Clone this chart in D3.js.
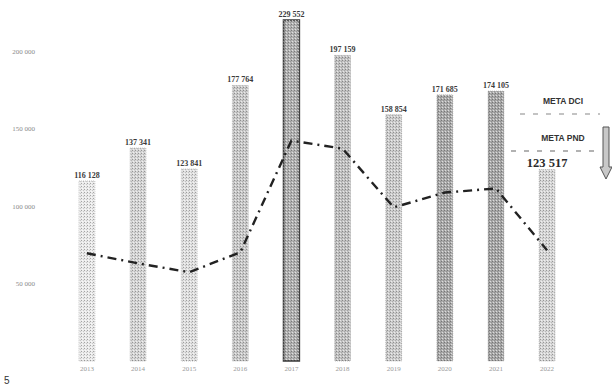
<!DOCTYPE html>
<html>
<head>
<meta charset="utf-8">
<script src="https://cdn.jsdelivr.net/npm/d3@7"></script>
<style>
  html, body { margin: 0; padding: 0; background: #fff; }
  svg { display: block; }
</style>
</head>
<body>
<div id="chart"></div>
<script>
const width = 612;
const height = 387;

// data
const years = ['2013', '2014', '2015', '2016', '2017', '2018', '2019', '2020', '2021', '2022'];
const barValues = [116128, 137341, 123841, 177764, 229552, 197159, 158854, 171685, 174105, 123517];
const lineValues = [69500, 63000, 57300, 70100, 142200, 137000, 99100, 108700, 111300, 71400];
const yTicks = [50000, 100000, 150000, 200000];
const metaLabels = ['META DCI', 'META PND'];

// bar tones of the halftone print
const shades = ['#ebebeb', '#d6d6d6', '#e1e1e1', '#cacaca', '#b2b2b2', '#c2c2c2', '#cdcdcd', '#aaaaaa', '#a8a8a8', '#d8d8d8'];

const fmt = v => d3.format(',')(v).replace(/,/g, ' ');

const svg = d3.select('#chart').append('svg')
    .attr('width', width)
    .attr('height', height);

const x = d3.scaleBand()
    .domain(years)
    .range([43.7, 590.3])
    .padding(0.69);

// the 2017 bar runs off the top of the page, so the scale is clamped
const y = d3.scaleLinear()
    .domain([0, 220000])
    .range([361, 20])
    .clamp(true);

// stipple texture laid over each bar
const defs = svg.append('defs');
const pat = defs.append('pattern')
    .attr('id', 'stipple')
    .attr('width', 3).attr('height', 3)
    .attr('patternUnits', 'userSpaceOnUse');
pat.append('rect').attr('x', 0).attr('y', 0).attr('width', 1).attr('height', 1).attr('fill', '#000').attr('opacity', 0.3);
pat.append('rect').attr('x', 1).attr('y', 2).attr('width', 1).attr('height', 1).attr('fill', '#fff').attr('opacity', 0.6);
pat.append('rect').attr('x', 2).attr('y', 1).attr('width', 1).attr('height', 1).attr('fill', '#000').attr('opacity', 0.15);

// y axis labels
svg.append('g').selectAll('text')
    .data(yTicks)
    .enter().append('text')
    .attr('x', 35)
    .attr('y', d => y(d) + 2.5)
    .attr('text-anchor', 'end')
    .style('font-family', 'Liberation Serif, serif')
    .style('font-size', '7px')
    .style('fill', '#8a8a8a')
    .text(d => fmt(d));

// bars
const bars = svg.append('g');
bars.selectAll('rect.bar')
    .data(barValues)
    .enter().append('rect')
    .attr('class', 'bar')
    .attr('x', (d, i) => x(years[i]))
    .attr('y', d => y(d))
    .attr('width', x.bandwidth())
    .attr('height', d => y(0) - y(d))
    .attr('fill', (d, i) => shades[i])
    .attr('stroke', (d, i) => i === 4 ? '#444' : '#999')
    .attr('stroke-width', (d, i) => i === 4 ? 1.6 : 0.6)
    .attr('stroke-dasharray', (d, i) => i === 4 ? null : '1,1');

bars.selectAll('rect.tex')
    .data(barValues)
    .enter().append('rect')
    .attr('class', 'tex')
    .attr('x', (d, i) => x(years[i]))
    .attr('y', d => y(d))
    .attr('width', x.bandwidth())
    .attr('height', d => y(0) - y(d))
    .attr('fill', 'url(#stipple)');

// value labels
svg.append('g').selectAll('text')
    .data(barValues)
    .enter().append('text')
    .attr('x', (d, i) => x(years[i]) + x.bandwidth() / 2)
    .attr('y', d => y(d) - 3)
    .attr('text-anchor', 'middle')
    .style('font-family', 'Liberation Serif, serif')
    .style('font-weight', 'bold')
    .style('font-size', (d, i) => i === years.length - 1 ? '12.5px' : '8px')
    .style('fill', (d, i) => i === years.length - 1 ? '#2a2a2a' : '#3a3a3a')
    .text(d => fmt(d));

// year labels
svg.append('g').selectAll('text')
    .data(years)
    .enter().append('text')
    .attr('x', d => x(d) + x.bandwidth() / 2)
    .attr('y', 371)
    .attr('text-anchor', 'middle')
    .style('font-family', 'Liberation Serif, serif')
    .style('font-size', '7px')
    .style('fill', '#999')
    .text(d => d);

// dash-dot line
const line = d3.line()
    .x((d, i) => x(years[i]) + x.bandwidth() / 2)
    .y(d => y(d));

svg.append('path')
    .datum(lineValues)
    .attr('d', line)
    .attr('fill', 'none')
    .attr('stroke', '#222')
    .attr('stroke-width', 2.4)
    .attr('stroke-dasharray', '9,5,2,5');

// legend for the goal lines
const legend = svg.append('g');
metaLabels.forEach((label, i) => {
    const ty = 104 + i * 37;
    legend.append('text')
        .attr('x', 563)
        .attr('y', ty)
        .attr('text-anchor', 'middle')
        .style('font-family', 'Liberation Sans, Arial, sans-serif')
        .style('font-weight', 'bold')
        .style('font-size', '8.5px')
        .style('fill', '#333')
        .text(label);
    legend.append('line')
        .attr('x1', i === 0 ? 520 : 511)
        .attr('x2', 600)
        .attr('y1', ty + 10)
        .attr('y2', ty + 10)
        .attr('stroke', i === 0 ? '#888' : '#666')
        .attr('stroke-width', 1.2)
        .attr('stroke-dasharray', '5,8');
});

// down arrow at right edge
svg.append('path')
    .attr('d', 'M603,127 L609,127 L609,167 L612,167 L606,179 L600,167 L603,167 Z')
    .attr('fill', '#c8c8c8')
    .attr('stroke', '#555')
    .attr('stroke-width', 1);

// page number
svg.append('text')
    .attr('x', 4)
    .attr('y', 384)
    .style('font-family', 'Liberation Sans, Arial, sans-serif')
    .style('font-size', '10px')
    .style('fill', '#333')
    .text('5');
</script>
</body>
</html>
